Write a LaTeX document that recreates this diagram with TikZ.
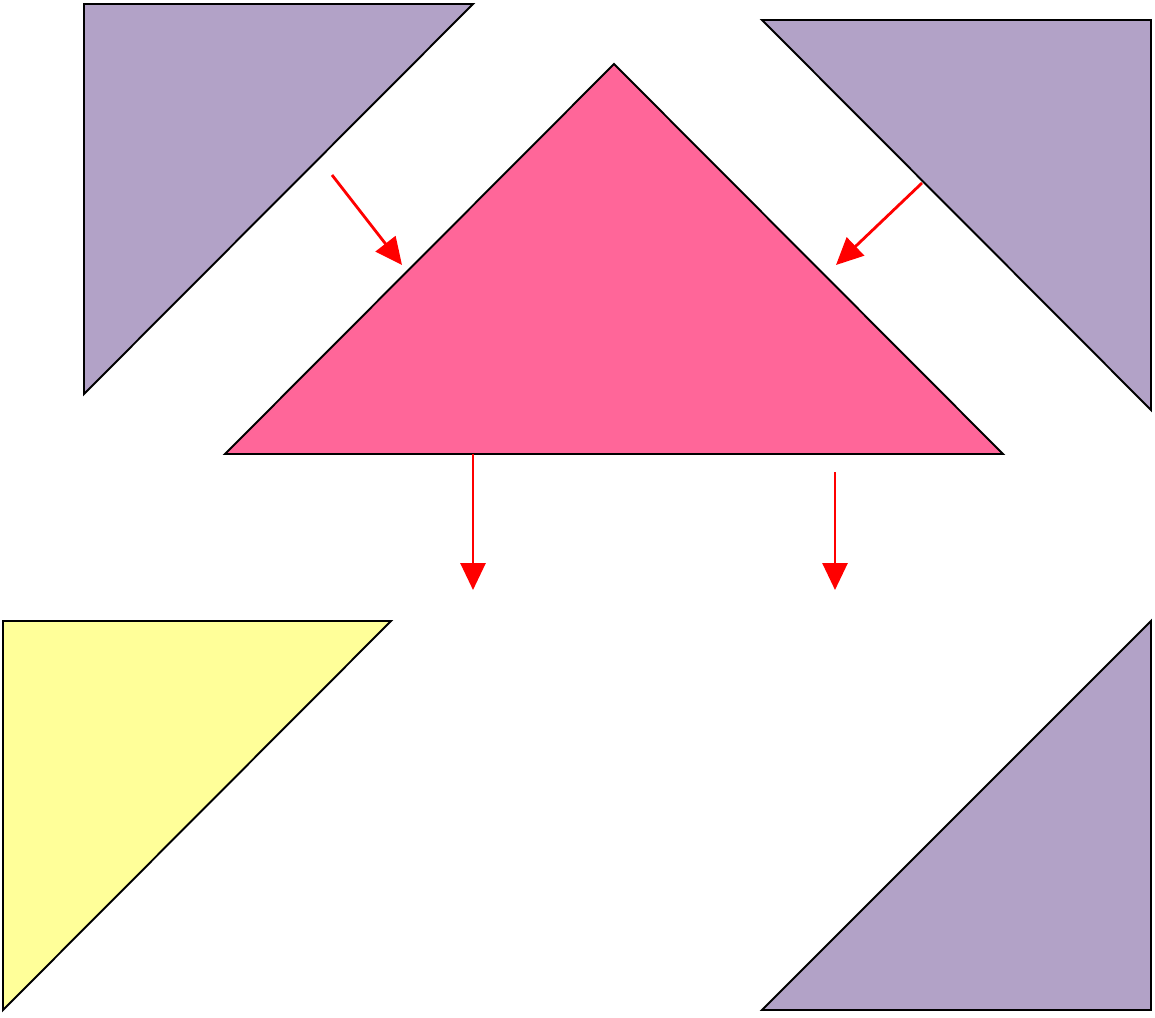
\documentclass[tikz,border=0pt]{standalone}
\usetikzlibrary{arrows.meta}

\definecolor{lilac}{HTML}{B2A2C7}
\definecolor{rose}{HTML}{FF6699}
\definecolor{lemon}{HTML}{FFFF99}

\tikzset{
  piece/.style={draw=black, line width=1.1pt, line join=miter},
  move/.style={draw=red, line width=1.6pt, -{Triangle[length=5.4mm, width=5mm]}}
}

\begin{document}
\begin{tikzpicture}[x=0.02cm, y=-0.02cm]
			\useasboundingbox (0,0) rectangle (1155,1017);
			
			% pieces
			\filldraw[piece, fill=lilac] (84,4) -- (473,4) -- (84,394) -- cycle;
			\filldraw[piece, fill=lilac] (762,20) -- (1151,20) -- (1151,410) -- cycle;
			\filldraw[piece, fill=rose] (614,64) -- (1003,454) -- (225,454) -- cycle;
			\filldraw[piece, fill=lemon] (3,621) -- (391,621) -- (3,1010) -- cycle;
			\filldraw[piece, fill=lilac] (1151,621) -- (1151,1010) -- (762,1010) -- cycle;
			
			\coordinate (a0) at (332,175);
			\coordinate (a1) at (402,265);
			\coordinate (b0) at (922,183);
			\coordinate (b1) at (836,265);
			\coordinate (c0) at (473,454);
			\coordinate (c1) at (473,590);
			\coordinate (d0) at (835,472);
			\coordinate (d1) at (835,590);
			
			\def\list {a0/a1, b0/b1, c0/c1, d0/d1}  % moves
			\foreach \u\v in \list
			{	\draw[move] (\u) -- (\v);}
		\end{tikzpicture}
\end{document}
